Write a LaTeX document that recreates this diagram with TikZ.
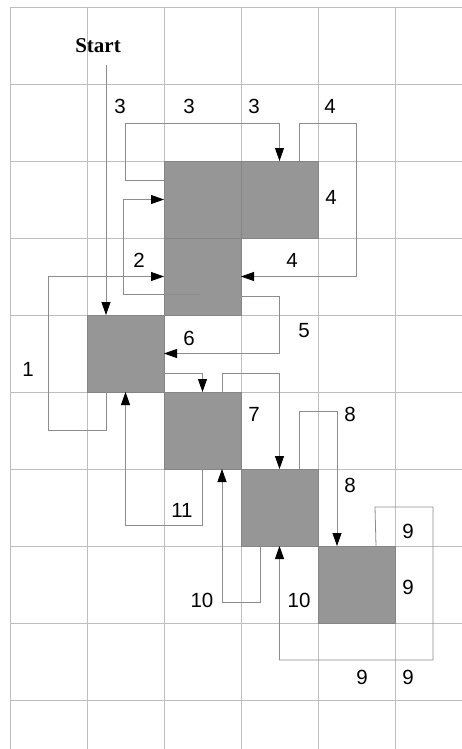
\documentclass[tikz,border=0pt]{standalone}
\usepackage{fontspec}
\setmainfont{Liberation Sans}
\newfontfamily\startfont{Liberation Serif}
\usetikzlibrary{arrows.meta}
\definecolor{gridc}{HTML}{BEBEBE}
\definecolor{connc}{HTML}{8C8C8C}
\definecolor{sqc}{HTML}{969696}
\definecolor{sqb}{HTML}{858585}
\tikzset{
  sq/.style={draw=sqb, line width=0.7pt, fill=sqc, minimum size=77pt, inner sep=0pt, outer sep=0pt},
  gridline/.style={draw=gridc, line width=0.9pt},
  conn/.style={draw=connc, line width=0.8pt},
  arr/.style={conn, -{Triangle[length=13pt,width=9pt,color=black]}},
  lbl/.style={inner sep=0pt, font=\fontsize{20.5}{24}\selectfont},
}
\begin{document}
\begin{tikzpicture}[x=1pt,y=-1pt]
\useasboundingbox (0,0) rectangle (462,749);
\fill[white] (0,0) rectangle (462,749);
% grid
\foreach \x in {10,87,164,241,318,395} \draw[gridline] (\x,7) -- (\x,749);
\foreach \y in {7,84,161,238,315,392,469,546,623,700} \draw[gridline] (10,\y) -- (462,\y);
% squares
\node[sq] (sT1) at (202.5,199.5) {};
\node[sq] (sT2) at (279.5,199.5) {};
\node[sq] (sM)  at (202.5,276.5) {};
\node[sq] (sB)  at (125.5,353.5) {};
\node[sq] (sC)  at (202.5,430.5) {};
\node[sq] (sD)  at (279.5,507.5) {};
\node[sq] (sE)  at (356.5,584.5) {};
% start
\node[inner sep=0pt, font=\startfont\bfseries\fontsize{21}{24}\selectfont] (start) at (98,46) {Start};
\coordinate (st) at (106,65);
\coordinate (m2) at (200,294);
% connectors
\draw[arr] (st) -- ([xshift=-19.5pt]sB.north);
\draw[arr] ([xshift=-19.5pt]sB.south) -- (106,430) -- (48,430) -- (48,276.5) -- (sM.west);
\draw[arr] (m2) -- (123,294) -- (123,199.5) -- (sT1.west);
\draw[arr] ([yshift=19.5pt]sT1.west) -- (125,180) -- (125,123) -- (279.5,123) -- (sT2.north);
\draw[arr] ([xshift=19.5pt]sT2.north) -- (299,123) -- (356,123) -- (356,276.5) -- (sM.east);
\draw[arr] ([yshift=-19.5pt]sM.east) -- (279,296) -- (279,353.5) -- (sB.east);
\draw[arr] ([yshift=-19.5pt]sB.east) -- (202.5,373) -- (sC.north);
\draw[arr] ([xshift=19.5pt]sC.north) -- (222,373) -- (279.5,373) -- (sD.north);
\draw[arr] ([xshift=19.5pt]sD.north) -- (299,411) -- (337,411) -- ([xshift=-19.5pt]sE.north);
\draw[arr] ([xshift=19.5pt]sE.north) -- (375,507) -- (433,507) -- (433,660) -- (279.5,660) -- (sD.south);
\draw[arr] ([xshift=-19.5pt]sD.south) -- (260,602) -- (222,602) -- ([xshift=19.5pt]sC.south);
\draw[arr] (sC.south) -- (202.5,525) -- (125.5,525) -- (sB.south);
% labels
\node[lbl] (l1) at (120,106) {3};
\node[lbl] (l2) at (189,106) {3};
\node[lbl] (l3) at (254,106) {3};
\node[lbl] (l4) at (330,106) {4};
\node[lbl] (l5) at (331,197) {4};
\node[lbl] (l6) at (139,260) {2};
\node[lbl] (l7) at (292,260) {4};
\node[lbl] (l8) at (304,331) {5};
\node[lbl] (l9) at (189,338) {6};
\node[lbl] (l10) at (28,369) {1};
\node[lbl] (l11) at (254,414) {7};
\node[lbl] (l12) at (350,414) {8};
\node[lbl] (l13) at (350,485) {8};
\node[lbl] (l14) at (182,510) {11};
\node[lbl] (l15) at (408,531) {9};
\node[lbl] (l16) at (408,587) {9};
\node[lbl] (l17) at (202,600) {10};
\node[lbl] (l18) at (299,600) {10};
\node[lbl] (l19) at (362,677) {9};
\node[lbl] (l20) at (408,677) {9};
\end{tikzpicture}
\end{document}
